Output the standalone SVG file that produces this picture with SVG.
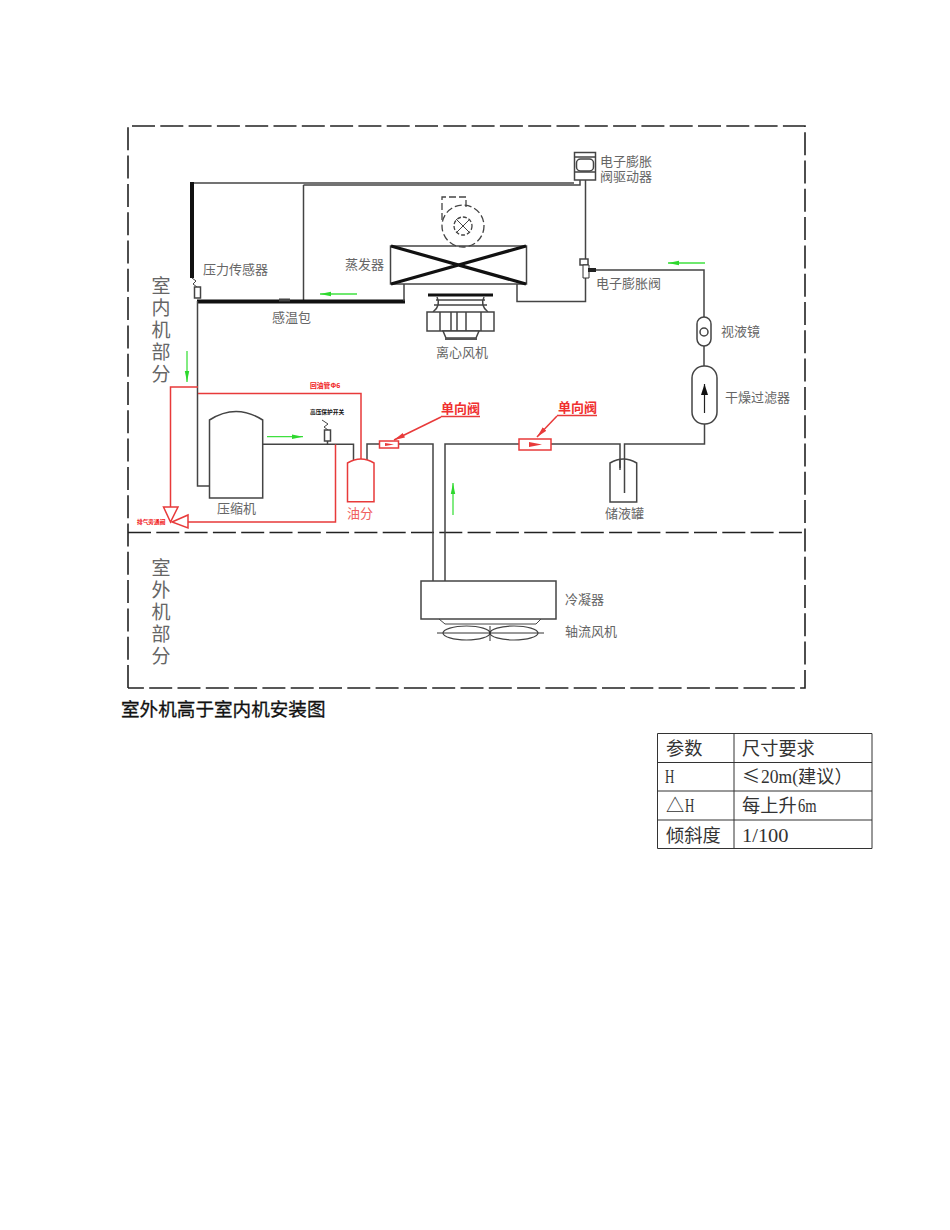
<svg xmlns="http://www.w3.org/2000/svg" width="950" height="1230" viewBox="0 0 950 1230">
<style>
text{font-family:"Noto Sans CJK SC","Liberation Sans",sans-serif}
.l{font-size:13px;fill:#666}
.z{font-size:19px;fill:#666;writing-mode:vertical-rl;letter-spacing:3px}
.t{font-size:18.2px;fill:#333}
.m{font-family:"Liberation Serif","Noto Sans CJK SC",serif;font-size:18.6px;fill:#333}
.r{font-size:13px;fill:#f03030}
.s{fill:none;stroke:#444;stroke-width:1.5}
.k{fill:none;stroke:#111;stroke-width:4}
.p{fill:none;stroke:#444;stroke-width:1.5}
.d{fill:none;stroke:#e83a3a;stroke-width:1.5}
.dn{fill:#fff;stroke:#e83a3a;stroke-width:1.5}
.gr{fill:none;stroke:#3fe03f;stroke-width:1.3}
.frame{fill:none;stroke:#222;stroke-width:1.6;stroke-dasharray:23 5.3}
.b{fill:#fff;stroke:#444;stroke-width:1.5}
.tb{fill:none;stroke:#333;stroke-width:1}
</style>
<defs>
<marker id="gh" markerUnits="userSpaceOnUse" markerWidth="12" markerHeight="6" refX="11" refY="3" orient="auto"><path d="M0 0.8L11 3L0 5.2z" fill="#2ed82e"/></marker>
<marker id="rh" markerUnits="userSpaceOnUse" markerWidth="12" markerHeight="6" refX="11" refY="3" orient="auto"><path d="M0 0.5L11 3L0 5.5z" fill="#e83a3a"/></marker>
<marker id="bh" markerUnits="userSpaceOnUse" markerWidth="12" markerHeight="8" refX="11" refY="4" orient="auto"><path d="M0 0.5L11 4L0 7.5z" fill="#111"/></marker>
</defs>

<g id="frame">
<path class="frame" d="M128 688V126H805V688H128"/>
<path class="frame" d="M128 532.500H805"/>
<text class="z" x="161" y="276.500">室内机部分</text>
<text class="z" x="161" y="558.500">室外机部分</text>
</g>

<g id="connectors">
<path class="p" d="M192 183H574"/>
<path class="p" d="M303.500 185H580V180"/>
<path class="p" d="M303.500 185V301"/>
<path class="k" d="M192 182V278"/>
<path class="k" d="M197 301.500H405"/>
<path class="p" d="M404 284V301"/>
<path class="p" d="M197.500 301V486H209"/>
<path class="p" d="M517 284V301.500H585.500V180"/>
<path class="p" d="M591 270H704V317"/>
<path class="p" d="M704 346V366"/>
<path class="p" d="M704.500 423V444H624.500V493"/>
<path class="p" d="M620 468V444H551"/>
<path class="p" d="M519 444H445V581"/>
<path class="p" d="M433 581V444H399"/>
<path class="p" d="M379 444H367V460"/>
<path class="p" d="M263 444.300H353.500V460"/>
<path class="d" d="M198 393.500H361V460"/>
<path class="d" d="M198 387H170.500V507"/>
<path class="d" d="M335.500 444.500V522H188"/>
<path class="d" d="M441 417L394 440" marker-end="url(#rh)"/>
<path class="d" d="M557 416L537 437" marker-end="url(#rh)"/>
<path class="gr" d="M357 294H320" marker-end="url(#gh)"/>
<path class="gr" d="M187 351V382" marker-end="url(#gh)"/>
<path class="gr" d="M267 436.700H303" marker-end="url(#gh)"/>
<path class="gr" d="M453 515V483" marker-end="url(#gh)"/>
<path class="gr" d="M705 263H668" marker-end="url(#gh)"/>
</g>

<g id="pressure-sensor">
<path fill="none" stroke="#444" d="M192 278L196 281L193 284L197 287"/>
<rect class="b" x="194.500" y="287" width="6" height="11"/>
<text class="l" x="203" y="274">压力传感器</text>
</g>
<g id="bulb"><rect x="279" y="298.500" width="11" height="3" fill="#444"/><text class="l" x="272" y="322">感温包</text></g>
<g id="evaporator">
<rect class="b" x="390.500" y="246" width="136" height="38"/>
<path d="M391 246L526 284M526 246L391 284" fill="none" stroke="#111" stroke-width="3.200"/>
<text class="l" x="345" y="269">蒸发器</text>
</g>
<g id="evap-fan">
<path fill="none" stroke="#444" stroke-width="1.300" stroke-dasharray="7 3" d="M442 220V197H466V207"/>
<circle cx="463" cy="226" r="21" fill="none" stroke="#444" stroke-width="1.300" stroke-dasharray="7 3"/>
<circle cx="463" cy="226" r="9" fill="none" stroke="#444" stroke-width="1.300" stroke-dasharray="4 2"/>
<path d="M456 219L470 233M470 219L456 233" stroke="#444" fill="none"/>
</g>
<g id="centrifugal-fan">
<path d="M428 295H493" stroke="#111" stroke-width="3" fill="none"/>
<path class="s" d="M437 297C440 303 438 308 433 312M484 297C481 303 483 308 488 312M436 300H485M434 305H487"/>
<rect class="b" x="427" y="312" width="67" height="19"/>
<path class="s" d="M440 312V331M451 312V331M457 312V331M466 312V331M481 312V331"/>
<path class="b" d="M443 331L446 338H476L479 331z"/>
<rect x="445" y="338" width="32" height="2" fill="#555"/>
<text class="l" x="436" y="357">离心风机</text>
</g>
<g id="evi-driver">
<rect class="b" x="574.500" y="152.500" width="21" height="27.500"/>
<rect class="b" x="576.500" y="159" width="17" height="12" rx="4"/>
<path class="s" d="M574.500 157H595.500M574.500 172H595.500"/>
<text class="l"><tspan x="600" y="166">电子膨胀</tspan><tspan x="600" y="181">阀驱动器</tspan></text>
</g>
<g id="evi-valve">
<rect class="b" x="580" y="259" width="8" height="6"/>
<path d="M583 265H589V278H583z" fill="#fff" stroke="#333"/>
<rect x="588" y="268" width="8" height="4" fill="#222"/>
<text class="l" x="596" y="288">电子膨胀阀</text>
</g>
<g id="sight-glass">
<rect class="b" x="697" y="317" width="14" height="29" rx="7"/>
<circle class="b" cx="704" cy="332" r="4"/>
<text class="l" x="721" y="336">视液镜</text>
</g>
<g id="filter">
<rect class="b" x="692" y="366" width="25" height="58" rx="12"/>
<path d="M704.500 413V384" fill="none" stroke="#222" stroke-width="1.200" marker-end="url(#bh)"/>
<text class="l" x="725" y="402">干燥过滤器</text>
</g>
<g id="compressor">
<path class="b" d="M209.500 420Q236 403 262.700 420V498H209.500z"/>
<text class="l" x="217" y="513">压缩机</text>
</g>
<g id="hp-switch">
<path fill="none" stroke="#444" d="M322 420L328 424L324 427L328 430"/>
<rect class="b" x="324.500" y="430" width="6" height="11"/>
<path class="p" d="M327.500 441V444"/>
<text x="310" y="414" font-size="5.700" font-weight="700" fill="#111">高压保护开关</text>
</g>
<g id="oil-separator">
<path d="M347.500 463Q361 455 374 463V501.700H347.500z" fill="#fff" stroke="#e83a3a" stroke-width="1.500"/>
<text x="347" y="518" font-size="13" fill="#f06060">油分</text>
</g>
<g id="bypass-valve">
<path class="dn" d="M163.500 507H178L170.500 522z"/>
<path class="dn" d="M188 515V528L172 522z"/>
<text x="137" y="524" font-size="5.700" font-weight="700" fill="#f01010">排气旁通阀</text>
</g>
<g id="oil-return-label"><text x="310" y="388" font-size="6.800" font-weight="700" fill="#f02020">回油管Φ6</text></g>
<g id="check-valve-1">
<rect class="dn" x="379.500" y="441" width="19" height="7"/>
<path d="M385 443L394 444.500L385 446z" fill="#e83a3a"/>
<text class="r" x="441" y="413" font-weight="700">单向阀</text>
<path class="d" d="M441 416.500H480"/>
</g>
<g id="check-valve-2">
<rect class="dn" x="519" y="439" width="32" height="11"/>
<path d="M529 442L542 444.500L529 447z" fill="#e83a3a"/>
<text class="r" x="558" y="412" font-weight="700">单向阀</text>
<path class="d" d="M557 415.500H597"/>
</g>
<g id="receiver">
<path class="s" d="M610 463Q623.500 455 636.700 463V502H610z"/>
<path class="p" d="M620 460V470"/>
<text class="l" x="605" y="518">储液罐</text>
</g>
<g id="condenser">
<rect class="b" x="421" y="581" width="135" height="38"/>
<text class="l" x="565" y="604">冷凝器</text>
</g>
<g id="axial-fan">
<path fill="none" stroke="#444" d="M439 619L445 624H536L541 619"/>
<ellipse cx="466.500" cy="633" rx="23.500" ry="7" fill="none" stroke="#444" stroke-width="1.200"/>
<ellipse cx="514" cy="633" rx="24" ry="7" fill="none" stroke="#444" stroke-width="1.200"/>
<path d="M437 633H544M490 626V641" fill="none" stroke="#333"/>
<text class="l" x="565" y="636">轴流风机</text>
</g>

<g id="caption"><text x="121" y="716" font-size="18.600" fill="#111" stroke="#111" stroke-width="0.300">室外机高于室内机安装图</text></g>

<g id="param-table">
<path class="tb" d="M657.500 733.500H872V848.500H657.500zM657.500 762.500H872M657.500 791H872M657.500 820H872M734 733.500V848.500"/>
<text class="t" x="666" y="755">参数</text>
<text class="t" x="742" y="755">尺寸要求</text>
<text class="m" x="665" y="783" textLength="9.300" lengthAdjust="spacingAndGlyphs">H</text>
<text class="t" x="742" y="783">≤</text>
<text class="m" x="761" y="783" textLength="37" lengthAdjust="spacingAndGlyphs">20m(</text>
<text class="t" x="798" y="783">建议）</text>
<text class="t" x="666" y="812">△</text>
<text class="m" x="685" y="812" textLength="9.300" lengthAdjust="spacingAndGlyphs">H</text>
<text class="t" x="742" y="812">每上升</text>
<text class="m" x="798" y="812" textLength="18.600" lengthAdjust="spacingAndGlyphs">6m</text>
<text class="t" x="666" y="842">倾斜度</text>
<text class="m" x="742" y="842" textLength="46.500" lengthAdjust="spacingAndGlyphs">1/100</text>
</g>
</svg>
